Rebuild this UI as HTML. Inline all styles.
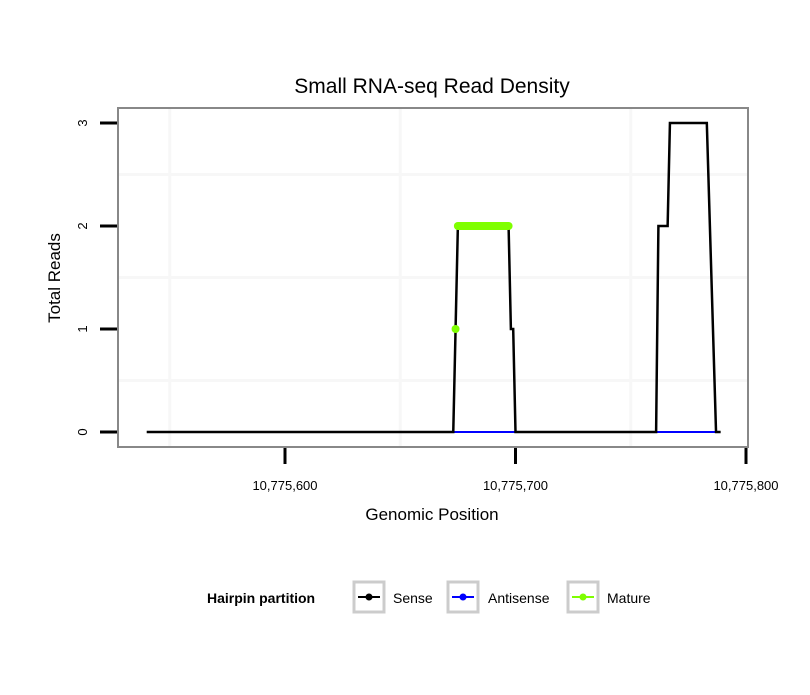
<!DOCTYPE html>
<html><head><meta charset="utf-8"><style>
body{margin:0;background:#fff;font-family:"Liberation Sans",sans-serif}
</style></head><body>
<svg width="810" height="690" id="c" font-family="Liberation Sans, sans-serif">
<text x="432" y="93" font-size="21" text-anchor="middle">Small RNA-seq Read Density</text>
<g id="grid"></g>
<g id="series"></g>
<rect x="118" y="108" width="630" height="339" fill="none" stroke="#888" stroke-width="2"/>
<g id="axes"></g>
<text x="432" y="520" font-size="17" text-anchor="middle">Genomic Position</text>
<text transform="translate(60,278) rotate(-90)" font-size="17" text-anchor="middle">Total Reads</text>
<g>
<text x="207" y="603" font-size="14" font-weight="bold">Hairpin partition</text>
<g><rect x="354" y="582" width="30" height="30" fill="#fff" stroke="#ccc" stroke-width="3"/><line x1="358" y1="597" x2="380" y2="597" stroke="#000" stroke-width="2"/><circle cx="369" cy="597" r="3.5" fill="#000"/><text x="393" y="603" font-size="14">Sense</text></g>
<g><rect x="448" y="582" width="30" height="30" fill="#fff" stroke="#ccc" stroke-width="3"/><line x1="452" y1="597" x2="474" y2="597" stroke="#00f" stroke-width="2"/><circle cx="463" cy="597" r="3.5" fill="#00f"/><text x="488" y="603" font-size="14">Antisense</text></g>
<g><rect x="568" y="582" width="30" height="30" fill="#fff" stroke="#ccc" stroke-width="3"/><line x1="572" y1="597" x2="594" y2="597" stroke="#7fff00" stroke-width="2"/><circle cx="583" cy="597" r="3.5" fill="#7fff00"/><text x="607" y="603" font-size="14">Mature</text></g>
</g>
</svg>
<script>
const senseX=[10775540,10775673,10775674,10775675,10775697,10775698,10775699,10775700,10775761,10775762,10775766,10775767,10775783,10775787,10775789];
const senseY=[0,0,1,2,2,1,1,0,0,2,2,3,3,0,0];
const antiSegs=[[10775673,10775700],[10775761,10775787]];
const matureX=[10775674];
const matureY=[1];
const matureBarStart=10775675, matureBarEnd=10775697, matureBarY=2;
const xTicks=[10775600,10775700,10775800];
const xTickLabels=["10,775,600","10,775,700","10,775,800"];
const yTicks=[0,1,2,3];
const xGridMinor=[10775550,10775650,10775750];
const yGridMinor=[0.5,1.5,2.5];
const NS='http://www.w3.org/2000/svg';
const sx=v=>285+(v-10775600)*2.305;
const sy=v=>432-v*103;
function mk(t,a,p){const e=document.createElementNS(NS,t);for(const k in a)e.setAttribute(k,a[k]);p.appendChild(e);return e;}
const grid=document.getElementById('grid'),ser=document.getElementById('series'),ax=document.getElementById('axes');
xGridMinor.forEach(v=>{const l=mk('line',{x1:sx(v),x2:sx(v),y1:109,y2:446,stroke:'#f7f7f7','stroke-width':3},grid);

});
yGridMinor.forEach(v=>{const l=mk('line',{x1:119,x2:747,y1:sy(v),y2:sy(v),stroke:'#f7f7f7','stroke-width':3},grid);

});
antiSegs.forEach(s=>{const l=mk('line',{x1:sx(s[0]),x2:sx(s[1]),y1:sy(0),y2:sy(0),stroke:'#00f','stroke-width':2},ser);

});
const p=mk('polyline',{points:senseX.map((x,i)=>sx(x)+','+sy(senseY[i])).join(' '),fill:'none',stroke:'#000','stroke-width':2.5},ser);


const mb=mk('line',{x1:sx(matureBarStart),x2:sx(matureBarEnd),y1:sy(matureBarY),y2:sy(matureBarY),stroke:'#7fff00','stroke-width':8,'stroke-linecap':'round'},ser);


matureX.forEach((x,i)=>{const c=mk('circle',{cx:sx(x),cy:sy(matureY[i]),r:4,fill:'#7fff00'},ser);

});
xTicks.forEach((v,i)=>{const l=mk('line',{x1:sx(v),x2:sx(v),y1:448,y2:464,stroke:'#000','stroke-width':3},ax);


const t=mk('text',{x:sx(v),y:490,'font-size':13,'text-anchor':'middle'},ax);t.textContent=xTickLabels[i];

});
yTicks.forEach(v=>{const l=mk('line',{x1:100,x2:117,y1:sy(v),y2:sy(v),stroke:'#000','stroke-width':3},ax);


const t=mk('text',{transform:`translate(87,${sy(v)}) rotate(-90)`,'font-size':13,'text-anchor':'middle'},ax);t.textContent=v;

});
</script>
</body></html>
